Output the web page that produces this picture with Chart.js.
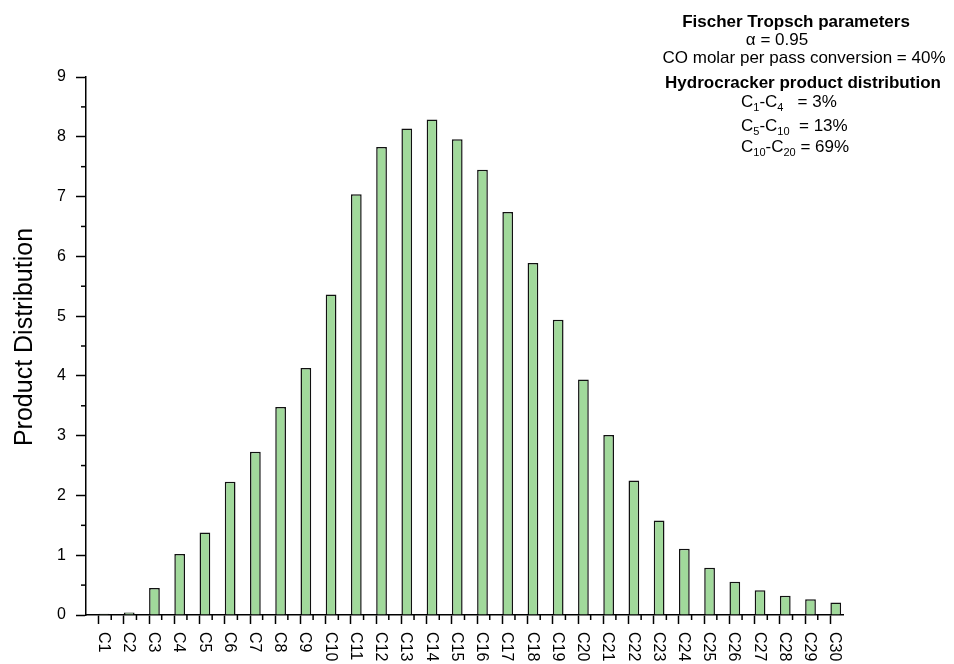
<!DOCTYPE html>
<html>
<head>
<meta charset="utf-8">
<title>Product Distribution</title>
<script src="https://cdn.jsdelivr.net/npm/chart.js@4.4.1/dist/chart.umd.min.js"></script>
<style>
  html, body { margin: 0; padding: 0; background: #fff; }
  #wrap { position: relative; width: 954px; height: 664px; }
</style>
</head>
<body>
<div id="wrap"><canvas id="distChart"></canvas></div>
<script>
// carbon numbers along the x axis
const carbons = ["C1", "C2", "C3", "C4", "C5", "C6", "C7", "C8", "C9", "C10",
  "C11", "C12", "C13", "C14", "C15", "C16", "C17", "C18", "C19", "C20",
  "C21", "C22", "C23", "C24", "C25", "C26", "C27", "C28", "C29", "C30"];

// product distribution
const distribution = [0.02, 0.04, 0.45, 1.02, 1.38, 2.23, 2.73, 3.48, 4.13, 5.36,
  7.04, 7.83, 8.14, 8.29, 7.96, 7.45, 6.74, 5.89, 4.94, 3.94,
  3.01, 2.25, 1.58, 1.11, 0.79, 0.555, 0.415, 0.32, 0.265, 0.21];

// y axis
const yMin = 0;
const yMax = 9;
const yMinorTicks = [0.5, 1.5, 2.5, 3.5, 4.5, 5.5, 6.5, 7.5, 8.5];
const yTitle = "Product Distribution";

// annotation block (top right)
const ftHeading = "Fischer Tropsch parameters";
const ftAlpha = "\u03b1 = 0.95";
const ftConversion = "CO molar per pass conversion = 40%";
const hcHeading = "Hydrocracker product distribution";
// [text, subscript?]
const hcLines = [
  [["C", false], ["1", true], ["-C", false], ["4", true], ["   = 3%", false]],
  [["C", false], ["5", true], ["-C", false], ["10", true], ["  = 13%", false]],
  [["C", false], ["10", true], ["-C", false], ["20", true], [" = 69%", false]]
];

const FONT = "'Liberation Sans', Arial, sans-serif";

function drawRich(ctx, parts, x, y) {
  let cx = x;
  parts.forEach(([txt, sub]) => {
    ctx.font = (sub ? "11px " : "17px ") + FONT;
    ctx.fillText(txt, cx, sub ? y + 4 : y);
    cx += ctx.measureText(txt).width;
  });
}

// minor ticks, rotated x labels, y title and the parameter text
const extras = {
  id: "extras",
  afterDraw(chart) {
    const ctx = chart.ctx;
    const xs = chart.scales.x;
    const ys = chart.scales.y;
    const area = chart.chartArea;
    ctx.save();
    ctx.strokeStyle = "#000";
    ctx.lineWidth = 1.5;

    // y minor ticks
    yMinorTicks.forEach(v => {
      const py = ys.getPixelForValue(v);
      ctx.beginPath();
      ctx.moveTo(area.left - 5, py);
      ctx.lineTo(area.left, py);
      ctx.stroke();
    });

    // x minor ticks between categories
    for (let i = 0; i < carbons.length - 1; i++) {
      const px = (xs.getPixelForValue(i) + xs.getPixelForValue(i + 1)) / 2;
      ctx.beginPath();
      ctx.moveTo(px, area.bottom);
      ctx.lineTo(px, area.bottom + 5);
      ctx.stroke();
    }

    // x labels, rotated clockwise
    ctx.fillStyle = "#000";
    ctx.font = "16px " + FONT;
    ctx.textAlign = "left";
    ctx.textBaseline = "alphabetic";
    carbons.forEach((lab, i) => {
      ctx.save();
      ctx.translate(xs.getPixelForValue(i), area.bottom + 17);
      ctx.rotate(Math.PI / 2);
      ctx.fillText(lab, 0, 0);
      ctx.restore();
    });

    // y title
    ctx.save();
    ctx.font = "25px " + FONT;
    ctx.textAlign = "center";
    ctx.translate(32, 337);
    ctx.rotate(-Math.PI / 2);
    ctx.fillText(yTitle, 0, 0);
    ctx.restore();

    // parameter text
    ctx.textAlign = "center";
    ctx.font = "bold 17px " + FONT;
    ctx.fillText(ftHeading, 796, 26.5);
    ctx.font = "17px " + FONT;
    ctx.fillText(ftAlpha, 777, 44.5);
    ctx.fillText(ftConversion, 804, 63);
    ctx.font = "bold 17px " + FONT;
    ctx.fillText(hcHeading, 803, 88);
    ctx.textAlign = "left";
    const baselines = [107, 130.5, 152];
    hcLines.forEach((parts, i) => drawRich(ctx, parts, 741, baselines[i]));

    ctx.restore();
  }
};

const ctx = document.getElementById("distChart").getContext("2d");

const distChart = new Chart(ctx, {
  type: "bar",
  data: {
    labels: carbons,
    datasets: [
      {
        // empty slot so the bars sit just right of each tick
        label: "spacer",
        data: []
      },
      {
        label: "Product Distribution",
        data: distribution,
        backgroundColor: "#a1d99b",
        borderColor: "#111",
        borderWidth: 1.5,
        borderSkipped: "bottom"
      }
    ]
  },
  options: {
    responsive: true,
    maintainAspectRatio: false,
    animation: false,
    datasets: {
      bar: { barPercentage: 1.0, categoryPercentage: 0.85 }
    },
    layout: {
      padding: { top: 77, right: 111, bottom: 40, left: 0 }
    },
    plugins: {
      legend: { display: false },
      tooltip: { enabled: false },
      title: { display: false }
    },
    scales: {
      x: {
        type: "category",
        offset: true,
        ticks: { display: false },
        grid: {
          offset: false,
          drawOnChartArea: false,
          drawTicks: true,
          tickLength: 9,
          tickColor: "#000",
          tickWidth: 1.5
        },
        border: { display: true, color: "#000", width: 1.5 }
      },
      y: {
        min: yMin,
        max: yMax,
        ticks: {
          stepSize: 1,
          padding: 10,
          color: "#000",
          font: { family: FONT, size: 16 }
        },
        grid: {
          drawOnChartArea: false,
          drawTicks: true,
          tickLength: 10,
          tickColor: "#000",
          tickWidth: 1.5
        },
        border: { display: true, color: "#000", width: 1.5 },
        afterFit(scale) {
          scale.width = 86;
        }
      }
    }
  },
  plugins: [extras]
});
</script>
</body>
</html>
